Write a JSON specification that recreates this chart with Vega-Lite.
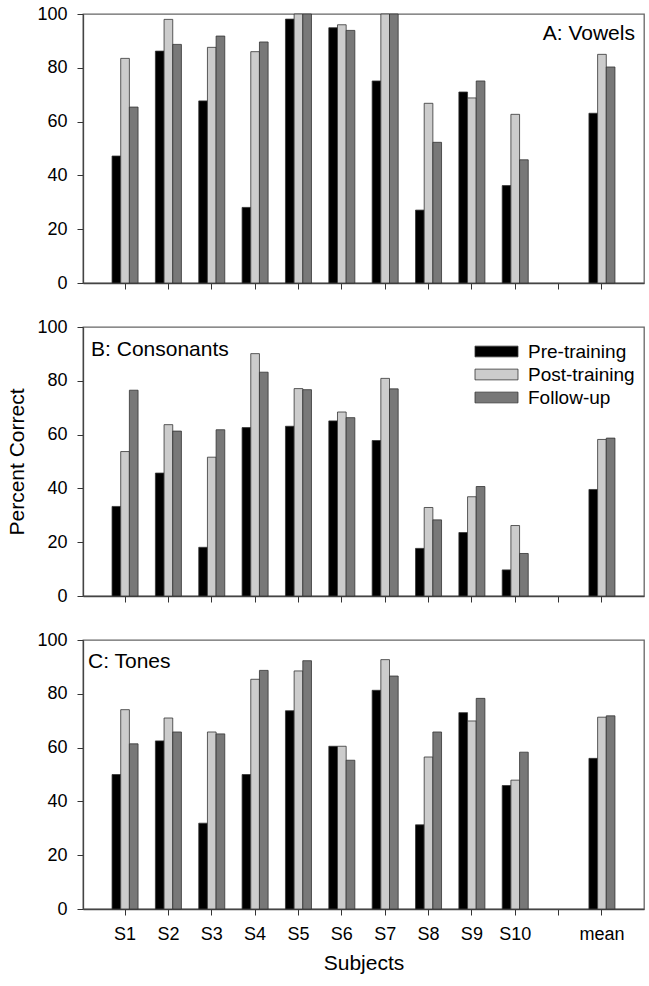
{
  "$schema": "https://vega.github.io/schema/vega-lite/v6.json",
  "padding": {"left": 6, "top": 4, "right": 5, "bottom": 5},
  "background": "white",
  "spacing": 24,
  "config": {
    "font": "Liberation Sans",
    "view": {"stroke": "#666", "strokeWidth": 1.3},
    "axis": {
      "labelFont": "Liberation Sans", "labelFontSize": 18, "labelColor": "#000",
      "titleFont": "Liberation Sans", "titleFontSize": 21, "titleFontWeight": "normal", "titleColor": "#000",
      "domainColor": "#444", "domainWidth": 1.3, "tickColor": "#333", "tickSize": 6, "grid": false
    },
    "bar": {"stroke": "#333", "strokeWidth": 0.8},
    "text": {"font": "Liberation Sans", "fontSize": 21, "color": "#000"}
  },
  "resolve": {"legend": {"color": "independent"}},
  "datasets": {
    "scores": [
      {"panel": "A", "subject": "S1", "condition": "Pre-training", "value": 47.2},
      {"panel": "A", "subject": "S1", "condition": "Post-training", "value": 83.5},
      {"panel": "A", "subject": "S1", "condition": "Follow-up", "value": 65.4},
      {"panel": "A", "subject": "S2", "condition": "Pre-training", "value": 86.2},
      {"panel": "A", "subject": "S2", "condition": "Post-training", "value": 98.0},
      {"panel": "A", "subject": "S2", "condition": "Follow-up", "value": 88.7},
      {"panel": "A", "subject": "S3", "condition": "Pre-training", "value": 67.7},
      {"panel": "A", "subject": "S3", "condition": "Post-training", "value": 87.6},
      {"panel": "A", "subject": "S3", "condition": "Follow-up", "value": 91.8},
      {"panel": "A", "subject": "S4", "condition": "Pre-training", "value": 28.1},
      {"panel": "A", "subject": "S4", "condition": "Post-training", "value": 86.0},
      {"panel": "A", "subject": "S4", "condition": "Follow-up", "value": 89.6},
      {"panel": "A", "subject": "S5", "condition": "Pre-training", "value": 98.1},
      {"panel": "A", "subject": "S5", "condition": "Post-training", "value": 100},
      {"panel": "A", "subject": "S5", "condition": "Follow-up", "value": 100},
      {"panel": "A", "subject": "S6", "condition": "Pre-training", "value": 94.9},
      {"panel": "A", "subject": "S6", "condition": "Post-training", "value": 96.0},
      {"panel": "A", "subject": "S6", "condition": "Follow-up", "value": 93.9},
      {"panel": "A", "subject": "S7", "condition": "Pre-training", "value": 75.1},
      {"panel": "A", "subject": "S7", "condition": "Post-training", "value": 100},
      {"panel": "A", "subject": "S7", "condition": "Follow-up", "value": 100},
      {"panel": "A", "subject": "S8", "condition": "Pre-training", "value": 27.1},
      {"panel": "A", "subject": "S8", "condition": "Post-training", "value": 66.8},
      {"panel": "A", "subject": "S8", "condition": "Follow-up", "value": 52.3},
      {"panel": "A", "subject": "S9", "condition": "Pre-training", "value": 71.0},
      {"panel": "A", "subject": "S9", "condition": "Post-training", "value": 68.8},
      {"panel": "A", "subject": "S9", "condition": "Follow-up", "value": 75.1},
      {"panel": "A", "subject": "S10", "condition": "Pre-training", "value": 36.2},
      {"panel": "A", "subject": "S10", "condition": "Post-training", "value": 62.7},
      {"panel": "A", "subject": "S10", "condition": "Follow-up", "value": 45.8},
      {"panel": "A", "subject": "mean", "condition": "Pre-training", "value": 63.1},
      {"panel": "A", "subject": "mean", "condition": "Post-training", "value": 85.0},
      {"panel": "A", "subject": "mean", "condition": "Follow-up", "value": 80.3},
      {"panel": "B", "subject": "S1", "condition": "Pre-training", "value": 33.3},
      {"panel": "B", "subject": "S1", "condition": "Post-training", "value": 53.7},
      {"panel": "B", "subject": "S1", "condition": "Follow-up", "value": 76.5},
      {"panel": "B", "subject": "S2", "condition": "Pre-training", "value": 45.7},
      {"panel": "B", "subject": "S2", "condition": "Post-training", "value": 63.7},
      {"panel": "B", "subject": "S2", "condition": "Follow-up", "value": 61.3},
      {"panel": "B", "subject": "S3", "condition": "Pre-training", "value": 18.1},
      {"panel": "B", "subject": "S3", "condition": "Post-training", "value": 51.6},
      {"panel": "B", "subject": "S3", "condition": "Follow-up", "value": 61.8},
      {"panel": "B", "subject": "S4", "condition": "Pre-training", "value": 62.6},
      {"panel": "B", "subject": "S4", "condition": "Post-training", "value": 90.1},
      {"panel": "B", "subject": "S4", "condition": "Follow-up", "value": 83.2},
      {"panel": "B", "subject": "S5", "condition": "Pre-training", "value": 63.1},
      {"panel": "B", "subject": "S5", "condition": "Post-training", "value": 77.1},
      {"panel": "B", "subject": "S5", "condition": "Follow-up", "value": 76.7},
      {"panel": "B", "subject": "S6", "condition": "Pre-training", "value": 65.1},
      {"panel": "B", "subject": "S6", "condition": "Post-training", "value": 68.4},
      {"panel": "B", "subject": "S6", "condition": "Follow-up", "value": 66.3},
      {"panel": "B", "subject": "S7", "condition": "Pre-training", "value": 57.8},
      {"panel": "B", "subject": "S7", "condition": "Post-training", "value": 80.9},
      {"panel": "B", "subject": "S7", "condition": "Follow-up", "value": 77.0},
      {"panel": "B", "subject": "S8", "condition": "Pre-training", "value": 17.7},
      {"panel": "B", "subject": "S8", "condition": "Post-training", "value": 32.9},
      {"panel": "B", "subject": "S8", "condition": "Follow-up", "value": 28.3},
      {"panel": "B", "subject": "S9", "condition": "Pre-training", "value": 23.6},
      {"panel": "B", "subject": "S9", "condition": "Post-training", "value": 36.9},
      {"panel": "B", "subject": "S9", "condition": "Follow-up", "value": 40.7},
      {"panel": "B", "subject": "S10", "condition": "Pre-training", "value": 9.7},
      {"panel": "B", "subject": "S10", "condition": "Post-training", "value": 26.2},
      {"panel": "B", "subject": "S10", "condition": "Follow-up", "value": 15.8},
      {"panel": "B", "subject": "mean", "condition": "Pre-training", "value": 39.6},
      {"panel": "B", "subject": "mean", "condition": "Post-training", "value": 58.2},
      {"panel": "B", "subject": "mean", "condition": "Follow-up", "value": 58.7},
      {"panel": "C", "subject": "S1", "condition": "Pre-training", "value": 50.0},
      {"panel": "C", "subject": "S1", "condition": "Post-training", "value": 74.1},
      {"panel": "C", "subject": "S1", "condition": "Follow-up", "value": 61.4},
      {"panel": "C", "subject": "S2", "condition": "Pre-training", "value": 62.5},
      {"panel": "C", "subject": "S2", "condition": "Post-training", "value": 71.0},
      {"panel": "C", "subject": "S2", "condition": "Follow-up", "value": 65.8},
      {"panel": "C", "subject": "S3", "condition": "Pre-training", "value": 31.9},
      {"panel": "C", "subject": "S3", "condition": "Post-training", "value": 65.8},
      {"panel": "C", "subject": "S3", "condition": "Follow-up", "value": 65.1},
      {"panel": "C", "subject": "S4", "condition": "Pre-training", "value": 50.0},
      {"panel": "C", "subject": "S4", "condition": "Post-training", "value": 85.4},
      {"panel": "C", "subject": "S4", "condition": "Follow-up", "value": 88.7},
      {"panel": "C", "subject": "S5", "condition": "Pre-training", "value": 73.7},
      {"panel": "C", "subject": "S5", "condition": "Post-training", "value": 88.5},
      {"panel": "C", "subject": "S5", "condition": "Follow-up", "value": 92.3},
      {"panel": "C", "subject": "S6", "condition": "Pre-training", "value": 60.5},
      {"panel": "C", "subject": "S6", "condition": "Post-training", "value": 60.5},
      {"panel": "C", "subject": "S6", "condition": "Follow-up", "value": 55.3},
      {"panel": "C", "subject": "S7", "condition": "Pre-training", "value": 81.3},
      {"panel": "C", "subject": "S7", "condition": "Post-training", "value": 92.7},
      {"panel": "C", "subject": "S7", "condition": "Follow-up", "value": 86.6},
      {"panel": "C", "subject": "S8", "condition": "Pre-training", "value": 31.3},
      {"panel": "C", "subject": "S8", "condition": "Post-training", "value": 56.5},
      {"panel": "C", "subject": "S8", "condition": "Follow-up", "value": 65.8},
      {"panel": "C", "subject": "S9", "condition": "Pre-training", "value": 73.0},
      {"panel": "C", "subject": "S9", "condition": "Post-training", "value": 69.9},
      {"panel": "C", "subject": "S9", "condition": "Follow-up", "value": 78.3},
      {"panel": "C", "subject": "S10", "condition": "Pre-training", "value": 45.9},
      {"panel": "C", "subject": "S10", "condition": "Post-training", "value": 47.9},
      {"panel": "C", "subject": "S10", "condition": "Follow-up", "value": 58.3},
      {"panel": "C", "subject": "mean", "condition": "Pre-training", "value": 56.0},
      {"panel": "C", "subject": "mean", "condition": "Post-training", "value": 71.3},
      {"panel": "C", "subject": "mean", "condition": "Follow-up", "value": 71.8}
    ]
  },
  "vconcat": [
    {
      "width": 561, "height": 269,
      "layer": [
        {
          "data": {"name": "scores"},
          "transform": [{"filter": "datum.panel == 'A'"}],
          "mark": "bar",
          "encoding": {
            "x": {"field": "subject", "type": "nominal", "scale": {"domain": ["S1","S2","S3","S4","S5","S6","S7","S8","S9","S10","gap","mean"], "paddingInner": 0.4, "paddingOuter": 0.67}, "axis": {"labels": false, "title": null}},
            "xOffset": {"field": "condition", "type": "nominal", "sort": ["Pre-training","Post-training","Follow-up"]},
            "y": {"field": "value", "type": "quantitative", "scale": {"domain": [0, 100], "nice": false}, "axis": {"values": [0,20,40,60,80,100], "title": null, "labelPadding": 10}},
            "color": {"field": "condition", "type": "nominal", "scale": {"domain": ["Pre-training","Post-training","Follow-up"], "range": ["#000000","#cccccc","#787878"]}, "legend": null}
          }
        },
        {
          "data": {"values": [{"label": "A: Vowels", "subject": "mean", "value": 90.2}]},
          "mark": {"type": "text", "align": "right", "baseline": "alphabetic", "dx": 33},
          "encoding": {
            "x": {"field": "subject", "type": "nominal"},
            "y": {"field": "value", "type": "quantitative"},
            "text": {"field": "label"}
          }
        }
      ]
    },
    {
      "width": 561, "height": 269,
      "layer": [
        {
          "data": {"name": "scores"},
          "transform": [{"filter": "datum.panel == 'B'"}],
          "mark": "bar",
          "encoding": {
            "x": {"field": "subject", "type": "nominal", "scale": {"domain": ["S1","S2","S3","S4","S5","S6","S7","S8","S9","S10","gap","mean"], "paddingInner": 0.4, "paddingOuter": 0.67}, "axis": {"labels": false, "title": null}},
            "xOffset": {"field": "condition", "type": "nominal", "sort": ["Pre-training","Post-training","Follow-up"]},
            "y": {"field": "value", "type": "quantitative", "scale": {"domain": [0, 100], "nice": false}, "axis": {"values": [0,20,40,60,80,100], "title": "Percent Correct", "labelPadding": 10, "titlePadding": 9}},
            "color": {"field": "condition", "type": "nominal", "scale": {"domain": ["Pre-training","Post-training","Follow-up"], "range": ["#000000","#cccccc","#787878"]},
              "legend": {"orient": "none", "legendX": 402, "legendY": 13, "title": null, "symbolType": "M-2,-0.5H2V0.5H-2Z", "symbolSize": 462, "symbolStrokeColor": "#333", "symbolStrokeWidth": 0.8, "symbolOpacity": 1, "labelFont": "Liberation Sans", "labelFontSize": 19, "labelColor": "#000", "labelOffset": 20, "rowPadding": 1, "padding": 0}}
          }
        },
        {
          "data": {"values": [{"label": "B: Consonants", "subject": "S1", "value": 89.2}]},
          "mark": {"type": "text", "align": "left", "baseline": "alphabetic", "dx": -34},
          "encoding": {
            "x": {"field": "subject", "type": "nominal"},
            "y": {"field": "value", "type": "quantitative"},
            "text": {"field": "label"}
          }
        }
      ]
    },
    {
      "width": 561, "height": 269,
      "layer": [
        {
          "data": {"name": "scores"},
          "transform": [{"filter": "datum.panel == 'C'"}],
          "mark": "bar",
          "encoding": {
            "x": {"field": "subject", "type": "nominal", "scale": {"domain": ["S1","S2","S3","S4","S5","S6","S7","S8","S9","S10","gap","mean"], "paddingInner": 0.4, "paddingOuter": 0.67}, "axis": {"title": "Subjects", "labelAngle": 0, "labelPadding": 10, "titlePadding": 9, "labelExpr": "datum.value == 'gap' ? '' : datum.value"}},
            "xOffset": {"field": "condition", "type": "nominal", "sort": ["Pre-training","Post-training","Follow-up"]},
            "y": {"field": "value", "type": "quantitative", "scale": {"domain": [0, 100], "nice": false}, "axis": {"values": [0,20,40,60,80,100], "title": null, "labelPadding": 10}},
            "color": {"field": "condition", "type": "nominal", "scale": {"domain": ["Pre-training","Post-training","Follow-up"], "range": ["#000000","#cccccc","#787878"]}, "legend": null}
          }
        },
        {
          "data": {"values": [{"label": "C: Tones", "subject": "S1", "value": 89.6}]},
          "mark": {"type": "text", "align": "left", "baseline": "alphabetic", "dx": -37},
          "encoding": {
            "x": {"field": "subject", "type": "nominal"},
            "y": {"field": "value", "type": "quantitative"},
            "text": {"field": "label"}
          }
        }
      ]
    }
  ]
}
